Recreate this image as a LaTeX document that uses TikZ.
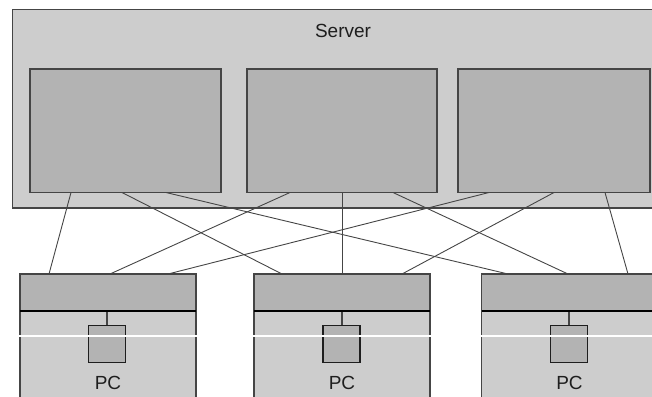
\documentclass[tikz,border=0pt]{standalone}
\usepackage{fontspec}
\setmainfont{Liberation Sans}
\usetikzlibrary{calc}
\definecolor{panel}{HTML}{CDCDCD}
\definecolor{unit}{HTML}{B3B3B3}
\definecolor{edge}{HTML}{454545}
\definecolor{ink}{HTML}{1E1E1E}
\tikzset{
  box/.style={draw=edge, line width=1.1pt, rectangle, inner sep=0pt, outer sep=0pt, anchor=north west},
  outerbox/.style={box, fill=panel},
  innerbox/.style={box, fill=unit},
  port/.style={box, draw=ink, fill=unit, anchor=center, minimum width=37pt, minimum height=37.5pt},
  link/.style={draw=edge, line width=0.9pt},
  stem/.style={draw=edge, line width=2pt},
  divider/.style={draw=black, line width=2.6pt},
  scanline/.style={draw=white, line width=1.1pt},
  caption/.style={text=ink, font=\fontsize{19}{22}\selectfont, inner sep=0pt}
}
\begin{document}
\begin{tikzpicture}[x=1pt, y=1pt]
  \useasboundingbox (0,0) rectangle (652,-396);
  \clip (0,0) rectangle (652,-396);

  % server enclosure with its three units
  \node[outerbox, minimum width=680pt, minimum height=198.5pt] (server) at (12.5,-9.5) {};
  \node[caption] (servertitle) at (343,-31) {Server};
  \node[innerbox, minimum width=191pt, minimum height=123.5pt] (b1) at (30,-69) {};
  \node[innerbox, minimum width=190pt, minimum height=123.5pt] (b2) at (247,-69) {};
  \node[innerbox, minimum width=192pt, minimum height=123.5pt] (b3) at (458,-69) {};

  % client machines: header strip and body
  \foreach \n/\x/\w in {1/20/176, 2/254/176, 3/481.5/200} {
    \node[outerbox, minimum width=\w pt, minimum height=130pt] (pc\n) at (\x,-311) {};
    \node[innerbox, minimum width=\w pt, minimum height=37pt] (h\n) at (\x,-274) {};
    \draw[divider] (pc\n.north west) -- (pc\n.north east);
  }

  % small port box hanging below each header
  \node[port] (s1) at (107,-343.8) {};
  \node[port] (s2) at (341.5,-343.8) {};
  \node[port] (s3) at (569,-343.8) {};
  \foreach \n in {1,2,3} {
    \draw[stem] (s\n.north) -- ([yshift=-1.3pt]s\n.north |- h\n.south);
  }

  \node[caption] (l1) at (108,-382.5) {PC};
  \node[caption] (l2) at (342,-382.5) {PC};
  \node[caption] (l3) at (569.5,-382.5) {PC};

  % cross connections between server units and clients
  \draw[link] ([xshift=41pt]b1.south west) -- ([xshift=29pt]h1.north west);
  \draw[link] ([xshift=92pt]b1.south west) -- ([xshift=28pt]h2.north west);
  \draw[link] ([xshift=136pt]b1.south west) -- ([xshift=26.5pt]h3.north west);
  \draw[link] ([xshift=43pt]b2.south west) -- ([xshift=90pt]h1.north west);
  \draw[link] ([xshift=95pt]b2.south west) -- ([xshift=88pt]h2.north west);
  \draw[link] ([xshift=146pt]b2.south west) -- ([xshift=86.5pt]h3.north west);
  \draw[link] ([xshift=31pt]b3.south west) -- ([xshift=148pt]h1.north west);
  \draw[link] ([xshift=96pt]b3.south west) -- ([xshift=148pt]h2.north west);
  \draw[link] ([xshift=147pt]b3.south west) -- ([xshift=146.5pt]h3.north west);

  % thin light line running across the client bodies
  \foreach \n in {1,2,3} {
    \draw[scanline] ([xshift=-1pt,yshift=-25pt]pc\n.north west) -- ([xshift=1pt,yshift=-25pt]pc\n.north east);
  }
\end{tikzpicture}
\end{document}
